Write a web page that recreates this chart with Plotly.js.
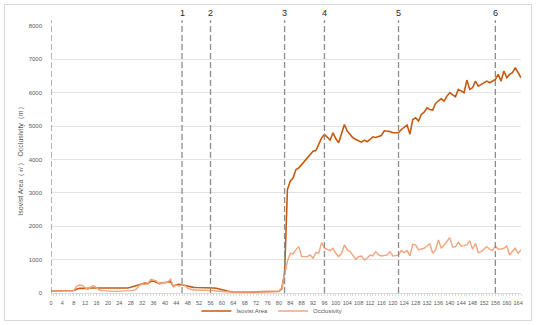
<!DOCTYPE html>
<html>
<head>
<meta charset="utf-8">
<script src="https://cdn.plot.ly/plotly-3.0.1.min.js"></script>
<style>
html,body{margin:0;padding:0;background:#fff;}
#wrap{position:relative;width:536px;height:325px;}
#chart{position:absolute;left:0;top:0;width:536px;height:325px;}
#frame{position:absolute;left:4px;top:4px;width:526px;height:315px;border:1px solid #d9d9d9;pointer-events:none;}
</style>
</head>
<body>
<div id="wrap"><div id="chart"></div><div id="frame"></div></div>
<script>
// Category positions 0..165
const steps = Array.from({length: 166}, (_, i) => i);

const isovistArea = [
  60,60,55,55,60,60,65,70,75,110,
  140,140,130,140,150,150,150,150,150,150,
  150,145,140,140,135,135,140,150,170,190,
  220,250,280,300,280,350,360,330,280,300,
  310,320,340,200,250,260,240,240,200,180,
  170,165,165,165,160,160,160,150,140,120,
  100,70,50,40,35,30,30,30,30,30,
  30,30,30,30,30,30,30,30,35,40,
  50,120,600,3100,3350,3450,3700,3750,3850,3950,
  4050,4150,4250,4270,4450,4650,4750,4650,4580,4800,
  4620,4500,4750,5050,4850,4750,4650,4600,4560,4520,
  4580,4530,4600,4680,4660,4700,4720,4860,4860,4840,
  4800,4790,4800,4900,4960,5030,4760,5200,5250,5150,
  5350,5420,5550,5500,5480,5680,5760,5820,5750,5900,
  6000,5950,5880,6100,6050,6000,6380,6100,6150,6350,
  6200,6250,6300,6350,6300,6350,6400,6550,6350,6650,
  6450,6550,6600,6750,6600,6450
];

const occlusivity = [
  60,60,60,55,55,60,60,65,70,200,
  240,230,150,110,180,220,140,90,70,60,
  60,50,50,50,50,50,55,60,70,80,
  120,220,270,260,280,410,380,360,270,290,
  300,330,410,190,240,200,250,240,140,110,
  90,90,90,85,80,80,75,70,60,50,
  40,35,30,30,30,30,30,30,30,30,
  30,30,30,30,30,30,30,30,30,35,
  40,150,600,950,1190,1170,1300,1390,1090,1090,
  1090,1140,1040,1210,1190,1510,1340,1310,1270,1340,
  1190,1090,1190,1440,1290,1240,1110,1010,1090,1110,
  990,1040,1140,1110,1240,1140,1110,1130,1140,1240,
  1110,1120,1140,1270,1210,1270,1110,1460,1440,1290,
  1310,1340,1410,1470,1190,1290,1590,1340,1440,1550,
  1660,1370,1390,1520,1410,1420,1440,1570,1310,1490,
  1210,1240,1320,1390,1310,1270,1410,1310,1320,1340,
  1410,1140,1250,1340,1190,1290
];

const markerSteps = [0, 46, 56, 82, 96, 122, 156];
const markerLabels = ['', '1', '2', '3', '4', '5', '6'];

const seriesNames = ['Isovist Area', 'Occlusivity'];
const yTitle = 'Isovist Area（㎡） Occlusivity（m）';

const fontFam = 'Liberation Sans, Arial, sans-serif';
const gray = '#595959';

const traces = [
  {x: steps, y: isovistArea, name: seriesNames[0], type: 'scatter', mode: 'lines',
   line: {color: '#C55A11', width: 1.6}},
  {x: steps, y: occlusivity, name: seriesNames[1], type: 'scatter', mode: 'lines',
   line: {color: '#F2A47C', width: 1.4}}
];

const shapes = markerSteps.map(s => ({
  type: 'line', xref: 'x', yref: 'paper', x0: s, x1: s, y0: 0, y1: 1.022,
  line: {color: '#8c8c8c', width: 1.3, dash: '6px,3px'}, layer: 'above'
}));
const annotations = markerSteps.map((s, i) => ({
  x: s, xref: 'x', y: 1.049, yref: 'paper', text: markerLabels[i], showarrow: false,
  font: {family: fontFam, size: 9, color: '#262626'}, xanchor: 'center', yanchor: 'middle'
})).filter(a => a.text !== '');

const layout = {
  width: 536, height: 325,
  margin: {l: 51, r: 15, t: 26, b: 32},
  paper_bgcolor: '#fff', plot_bgcolor: '#fff',
  font: {family: fontFam, color: gray, size: 6},
  showlegend: true,
  legend: {orientation: 'h', x: 0.47, xref: 'paper', xanchor: 'center',
    y: 0.043, yref: 'container', yanchor: 'middle', bgcolor: 'rgba(0,0,0,0)',
    font: {size: 6, color: gray}, tracegroupgap: 0},
  xaxis: {
    range: [0, 165], tickmode: 'linear', tick0: 0, dtick: 4, tickangle: 0,
    showgrid: false, zeroline: false, showline: true, linecolor: '#d9d9d9', linewidth: 1,
    ticks: 'outside', ticklen: 2, tickcolor: '#d9d9d9',
    minor: {dtick: 1, ticks: 'outside', ticklen: 2, tickcolor: '#d9d9d9', showgrid: false},
    tickfont: {size: 5.5, color: gray}, ticklabelstandoff: 2, automargin: false
  },
  yaxis: {
    range: [0, 8000], tickmode: 'linear', tick0: 0, dtick: 1000,
    showgrid: true, gridcolor: '#e3e3e3', gridwidth: 1, zeroline: false, showline: false,
    tickfont: {size: 6, color: gray}, ticklabelstandoff: 8, automargin: false,
    title: {text: yTitle, font: {size: 7, color: gray}, standoff: 4}
  },
  shapes: shapes,
  annotations: annotations
};

Plotly.newPlot('chart', traces, layout, {displayModeBar: false, staticPlot: true});
</script>
</body>
</html>
